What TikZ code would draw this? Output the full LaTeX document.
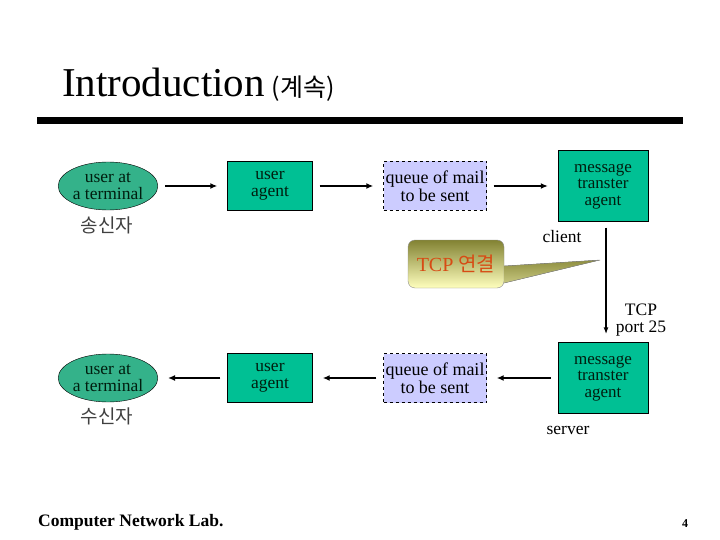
\documentclass[tikz,border=0pt]{standalone}
\usepackage{fontspec}
\setmainfont{Liberation Serif}
\newfontfamily\kr{Noto Sans CJK KR}
\usetikzlibrary{shapes.geometric,arrows.meta}
\definecolor{termgreen}{RGB}{52,178,138}
\definecolor{boxgreen}{RGB}{0,192,148}
\definecolor{textgreen}{RGB}{0,30,15}
\definecolor{queueblue}{RGB}{204,204,255}
\definecolor{olivedark}{RGB}{130,130,50}
\definecolor{olivelight}{RGB}{255,255,190}
\definecolor{tcpred}{RGB}{215,75,20}
\tikzset{term/.style = {ellipse,draw,fill=termgreen,minimum width=96pt,minimum height=48pt,inner sep=0pt,align=center,text=textgreen,font=\fontsize{17.5}{17.5}\selectfont},
         agent/.style = {draw,fill=boxgreen,minimum width=85pt,minimum height=49pt,inner sep=0pt,align=center,text=textgreen,font=\fontsize{17.5}{17.5}\selectfont},
         queue/.style = {draw,dashed,fill=queueblue,minimum width=103pt,minimum height=49pt,inner sep=0pt,align=center,font=\fontsize{18}{18}\selectfont},
         mta/.style = {draw,fill=boxgreen,minimum width=90pt,minimum height=71pt,inner sep=0pt,align=center,text=textgreen,font=\fontsize{17}{16.5}\selectfont},
         flow/.style = {line width=1.8pt,-{Latex[length=7pt,width=6pt]},shorten <=7pt,shorten >=10pt},
         side/.style = {font=\kr\fontsize{19}{19}\selectfont,text=black!75},
         tag/.style = {font=\fontsize{17.5}{17.5}\selectfont,align=center,inner sep=0pt}}
\begin{document}
\begin{tikzpicture}[x=1pt,y=-1pt]
    \useasboundingbox (0,0) rectangle (720,540);
    % title and rule
    \node[anchor=base west,inner sep=0pt,font=\fontsize{41}{41}\selectfont] (title) at (62,97) {Introduction\hspace{7pt}{\kr\fontsize{25}{25}\selectfont(계속)}};
    \fill (37,117) rectangle (683,124);
    % sender side
    \node[term]  (snd)  at (108,186) {user at\\a terminal};
    \node[agent] (sua)  at (270,186) {user\\agent};
    \node[queue] (sq)   at (435,186) {queue of mail\\to be sent};
    \node[mta]   (smta) at (603,186) {message\\transter\\agent};
    \node[side] (sndlbl) at (107,225) {송신자};
    \node[tag] (client) at (562,237) {client};
    \draw[flow] (snd) -- (sua);
    \draw[flow] (sua) -- (sq);
    \draw[flow] (sq) -- (smta);
    % receiver side
    \node[term]  (rcv)  at (108,378) {user at\\a terminal};
    \node[agent] (rua)  at (270,378) {user\\agent};
    \node[queue] (rq)   at (435,378) {queue of mail\\to be sent};
    \node[mta]   (rmta) at (603,378) {message\\transter\\agent};
    \node[side] (rcvlbl) at (107,416) {수신자};
    \node[tag] (server) at (568,430) {server};
    \draw[flow] (rua) -- (rcv);
    \draw[flow] (rq) -- (rua);
    \draw[flow] (rmta) -- (rq);
    % tcp connection
    \draw[line width=1.4pt,-{Latex[length=7pt,width=5pt]},shorten <=6pt,shorten >=8pt] ([xshift=3pt]smta.south) -- ([xshift=3pt]rmta.north);
    \node[tag] (port) at (641,320) {TCP\\port 25};
    \coordinate (tip) at (600,260);
    \node[draw=black!45,rounded corners=7pt,top color=olivedark,bottom color=olivelight,minimum width=96pt,minimum height=48pt,inner sep=0pt,
          text=tcpred,font=\fontsize{20}{20}\selectfont] (tcp) at (456,264) {TCP {\kr 연결}};
    \fill[top color=olivedark!90!olivelight,bottom color=olivedark!45!olivelight] ([yshift=-19pt]tcp.east) -- (tip) -- ([yshift=-2pt]tcp.east) -- cycle;
    \draw[black!45] ([yshift=-19pt]tcp.east) -- (tip) -- ([yshift=-2pt]tcp.east);
    % footer
    \node[anchor=base west,inner sep=0pt,font=\bfseries\fontsize{17.5}{17.5}\selectfont] (lab) at (38,526) {Computer Network Lab.};
    \node[anchor=base,inner sep=0pt,font=\bfseries\fontsize{12}{12}\selectfont] (page) at (685,527) {4};
\end{tikzpicture}
\end{document}
